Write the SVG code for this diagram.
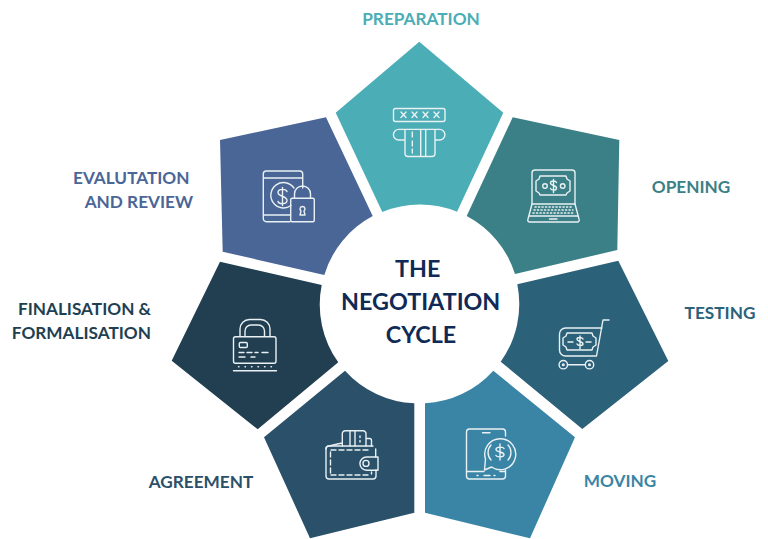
<svg xmlns="http://www.w3.org/2000/svg" width="768" height="539" viewBox="0 0 768 539">
<style>
.lb{font-family:Lato,"Open Sans","Liberation Sans",sans-serif;font-weight:700;font-size:17.200px;text-anchor:middle}
.tt{font-family:Lato,"Open Sans","Liberation Sans",sans-serif;font-weight:700;font-size:23.300px;text-anchor:middle;fill:#0f2a56}
.ic{fill:none;stroke:#e9f1f4;stroke-width:1.400;stroke-linejoin:round;stroke-linecap:round}
</style>
<rect width="768" height="539" fill="#fff"/>
<g id="node-preparation">
<path d="M419.300 41.700L503.300 112.700L457 211.700A99 99 0 0 0 382.300 212L335.700 112.700Z" fill="#4badb6"/>
<g class="ic"><rect x="393.500" y="108.500" width="51.500" height="13" rx="2"/><path d="M401 112l5 5.500M406 112l-5 5.500M412 112l5 5.500M417 112l-5 5.500M423 112l5 5.500M428 112l-5 5.500M434 112l5 5.500M439 112l-5 5.500"/><path d="M405 140h-6.300a5.300 5.300 0 0 1 0-10.600h40.900a5.300 5.300 0 0 1 0 10.600h-4.600M405 129.500v24a3 3 0 0 0 3 3h24a3 3 0 0 0 3-3v-24M420.700 129.500v27M425.700 129.500v27M412.300 132v5M412.300 141v5M412.300 149v4"/></g>
<text class="lb" x="421" y="24.500" fill="#4badb6">PREPARATION</text>
</g>
<g id="node-opening">
<path d="M512.700 117.300L619.300 140L617.300 250L515 274A99 99 0 0 0 466.700 216Z" fill="#3b8086"/>
<g class="ic"><path d="M532 204v-31a3 3 0 0 1 3-3h37a3 3 0 0 1 3 3v31"/><path d="M540 176h26l1 3l3 2v10l-3 2l-1 2h-26l-1-2l-3-2v-10l3-2Z"/><circle cx="545" cy="186" r="2.300"/><circle cx="562.700" cy="186" r="2.300"/><path d="M556.500 182.500c-1-2-6-2-6 .500c0 3 6 2 6 5c0 3-5 2.500-6 .500M553.500 179.500v13"/><path d="M532 204l-4 15a2 2 0 0 0 2 3h47a2 2 0 0 0 2-3l-4-15ZM529 216h49M549.500 219h7.500"/><path stroke-dasharray="1.200 2.300" d="M535 207h37M534 210h39M533 213h41"/></g>
<text class="lb" x="691" y="192.500" fill="#3b8086">OPENING</text>
</g>
<g id="node-testing">
<path d="M618.300 260.700L668.300 361L582.300 429L500.700 361.700A99 99 0 0 0 517.300 284.300Z" fill="#2b6179"/>
<g class="ic"><path d="M609 320h-6l-6.500 36h-31a6 6 0 0 1-6-6v-16a6 6 0 0 1 6-6h36.500"/><path d="M567 333h25l1 3l3 2v7l-3 2l-1 3h-25l-1-3l-3-2v-7l3-2Z"/><path d="M568 342h5M586 342h5M583 339c-1-2-6-2-6 0c0 3 6 2 6 5c0 2-5 2-6 0M580 336v13"/><circle cx="563.300" cy="364.700" r="4.200"/><circle cx="589.500" cy="364.700" r="4.200"/><circle cx="563.300" cy="364.700" r=".8"/><circle cx="589.500" cy="364.700" r=".8"/><path d="M567.500 364.700h17.800"/></g>
<text class="lb" x="720" y="319" fill="#2b6179">TESTING</text>
</g>
<g id="node-moving">
<path d="M493.300 370.700L575 437.300L530 538.300L425 512.700V403.300A99 99 0 0 0 493.300 370.700Z" fill="#3a85a6"/>
<g class="ic"><path d="M505.500 436v-4a3 3 0 0 0-3-3h-33a3 3 0 0 0-3 3v44a3 3 0 0 0 3 3h33a3 3 0 0 0 3-3v-6M467 471.500h17M500 471.500h5M482.500 432.700h7.500"/><path d="M484.500 470l1-11a15.500 15.500 0 1 1 6 8Z"/><path d="M491 445a11 11 0 0 0 0 15M508 445a11 11 0 0 1 0 15M504 448.500c-1-2-8-2-8 1c0 3 8 2 8 5c0 3-7 3-8 1M500 444v16M477 475.500h1M484 475.500h6M494 475.500h1"/></g>
<text class="lb" x="620" y="486.500" fill="#3a85a6">MOVING</text>
</g>
<g id="node-agreement">
<path d="M345 370.700L264 437.300L310 538.300L414.300 512.700V403.300A99 99 0 0 1 345 370.700Z" fill="#2b506a"/>
<g class="ic"><path d="M326 449a3 3 0 0 1 3-3l13-3M342.300 446v-12a3 3 0 0 1 3-3.300h17.700a3 3 0 0 1 3 3.300v12M350 431v15M355 431v15M366.500 438.500l3 0a2 2 0 0 1 2 2v5.500"/><path d="M373 446h-44a3 3 0 0 0-3 3v27a3 3 0 0 0 3 3h44a3 3 0 0 0 3-3v-6M375.700 449v8"/><path stroke-dasharray="5 3" d="M331 450h40M331 475h40M330.500 452v21M371.500 472v2"/><path stroke-dasharray="1.500 3" d="M360 436v9"/><path d="M378 457h-11.500a6.600 6.600 0 0 0 0 13.200h11.500Z"/><circle cx="366" cy="463.400" r="3"/></g>
<text class="lb" x="201" y="488" fill="#2b506a">AGREEMENT</text>
</g>
<g id="node-finalisation">
<path d="M220 261.700L321.700 285A99 99 0 0 0 338.300 362.300L257.700 429.300L171.700 360.700Z" fill="#223f52"/>
<g class="ic"><rect x="233.500" y="336.700" width="42.500" height="26.600" rx="2"/><path d="M240 336v-7a9.500 9.500 0 0 1 9.500-9.500h11a9.500 9.500 0 0 1 9.500 9.500v7M245 336v-5a6 6 0 0 1 6-6h7.500a6 6 0 0 1 6 6v5M233.500 370.700h43"/><rect x="239.300" y="342.500" width="8" height="5" rx="1.200"/><path d="M239 352.500h5M247 352.500h5M255 352.500h3M262 352.500h6M239 357h6M251 357h4"/><path stroke-dasharray=".5 6" d="M238.500 366.700h33"/></g>
<text class="lb" x="151" y="315" style="text-anchor:end" fill="#223f52">FINALISATION &amp;</text>
<text class="lb" x="151" y="338.500" style="text-anchor:end" fill="#223f52">FORMALISATION</text>
</g>
<g id="node-evaluation">
<path d="M220 140L326 117.300L372.700 216A99 99 0 0 0 324.300 275L222.700 251.700Z" fill="#4a6696"/>
<g class="ic"><path d="M290 221.700h-23.700a3 3 0 0 1-3-3v-44.700a3 3 0 0 1 3-3h33.400a3 3 0 0 1 3 3v14M263.300 178h39.400M263.300 215h27"/><path d="M294 188a12.700 12.700 0 1 0 -3 17.500"/><path d="M287 191.500c-1-3-9-3-9 1c0 4.500 9 3 9 8c0 4-8 4-9 1M282.500 187.500v18"/><rect x="290.700" y="198.300" width="23.600" height="23.400" rx="1.500"/><path d="M294.500 198v-4a8 8 0 0 1 16 0v4M302.500 206.500a2.500 2.500 0 0 1 1.500 4.500l1 4h-5l1-4a2.500 2.500 0 0 1 1.500-4.500Z"/></g>
<text class="lb" x="189.500" y="183.500" style="text-anchor:end" fill="#4a6696">EVALUTATION</text>
<text class="lb" x="193" y="207.500" style="text-anchor:end" fill="#4a6696">AND REVIEW</text>
</g>
<g id="center">
<text class="tt" x="417.700" y="276.500">THE</text>
<text class="tt" x="420.700" y="309.500">NEGOTIATION</text>
<text class="tt" x="421" y="342.500">CYCLE</text>
</g>
<g id="connectors"/>
</svg>
